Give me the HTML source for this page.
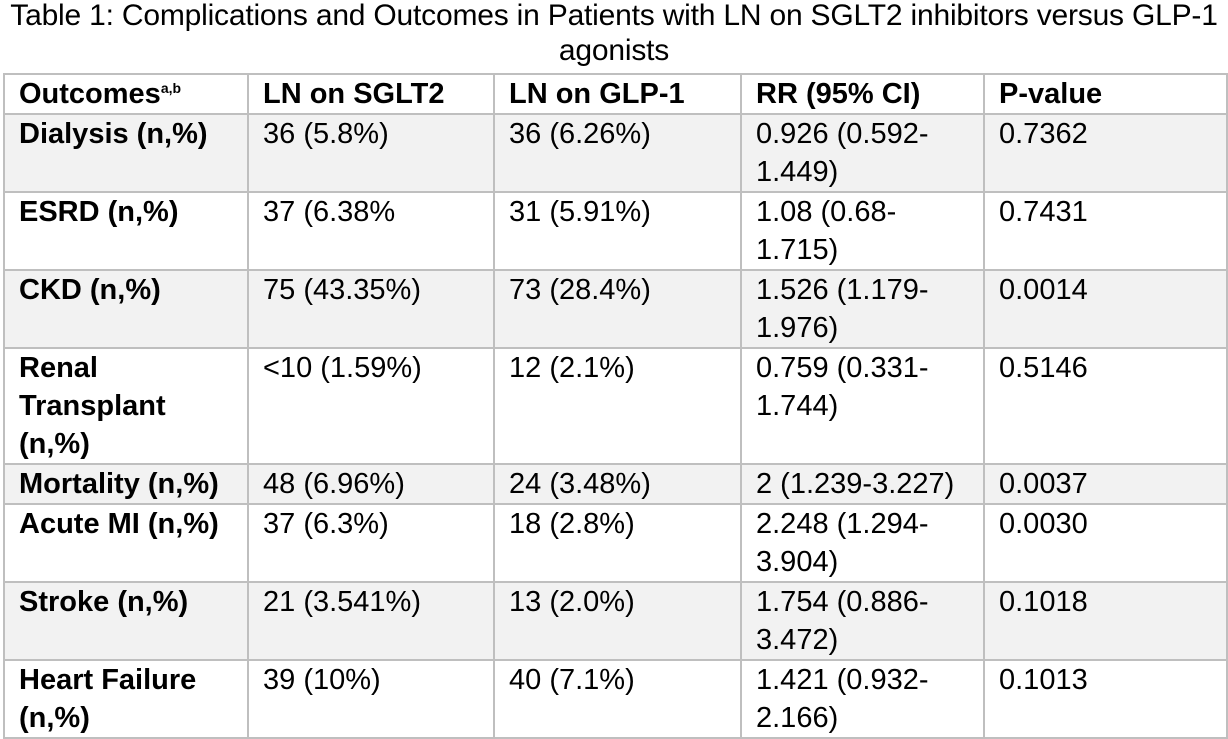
<!DOCTYPE html>
<html><head><style>
body{margin:0;background:#fff;width:1228px;height:738px;overflow:hidden;font-family:"Liberation Sans",sans-serif;color:#000}
.t{position:absolute;left:0;width:1228px;text-align:center;font-size:30px;line-height:35px;top:-2px;white-space:nowrap;letter-spacing:-0.2px}
table{position:absolute;left:3px;top:73px;border-collapse:collapse;table-layout:fixed;width:1223px}
td{border:2px solid #bfbfbf;vertical-align:top;padding:0 14px;font-size:29px;line-height:38px;overflow:hidden;white-space:nowrap}
td:first-child{font-weight:bold}
tr.h td{font-weight:bold}
tr.s td{background:#f2f2f2}
sup{font-size:14px;vertical-align:10px;line-height:0}
</style></head><body>
<div class="t">Table 1: Complications and Outcomes in Patients with LN on SGLT2 inhibitors versus GLP-1<br>agonists</div>
<table>
<colgroup><col style="width:244px"><col style="width:246px"><col style="width:247px"><col style="width:243px"><col style="width:243px"></colgroup>
<tr class="h" style="height:40px"><td>Outcomes<sup>a,b</sup></td><td>LN on SGLT2</td><td>LN on GLP-1</td><td>RR (95% CI)</td><td>P-value</td></tr>
<tr class="s" style="height:78px"><td>Dialysis (n,%)</td><td>36 (5.8%)</td><td>36 (6.26%)</td><td>0.926 (0.592-<br>1.449)</td><td>0.7362</td></tr>
<tr style="height:78px"><td>ESRD (n,%)</td><td>37 (6.38%</td><td>31 (5.91%)</td><td>1.08 (0.68-<br>1.715)</td><td>0.7431</td></tr>
<tr class="s" style="height:78px"><td>CKD (n,%)</td><td>75 (43.35%)</td><td>73 (28.4%)</td><td>1.526 (1.179-<br>1.976)</td><td>0.0014</td></tr>
<tr style="height:115px"><td>Renal<br>Transplant<br>(n,%)</td><td>&lt;10 (1.59%)</td><td>12 (2.1%)</td><td>0.759 (0.331-<br>1.744)</td><td>0.5146</td></tr>
<tr class="s" style="height:39px"><td>Mortality (n,%)</td><td>48 (6.96%)</td><td>24 (3.48%)</td><td>2 (1.239-3.227)</td><td>0.0037</td></tr>
<tr style="height:78px"><td>Acute MI (n,%)</td><td>37 (6.3%)</td><td>18 (2.8%)</td><td>2.248 (1.294-<br>3.904)</td><td>0.0030</td></tr>
<tr class="s" style="height:78px"><td>Stroke (n,%)</td><td>21 (3.541%)</td><td>13 (2.0%)</td><td>1.754 (0.886-<br>3.472)</td><td>0.1018</td></tr>
<tr style="height:78px"><td>Heart Failure<br>(n,%)</td><td>39 (10%)</td><td>40 (7.1%)</td><td>1.421 (0.932-<br>2.166)</td><td>0.1013</td></tr>
</table>
</body></html>
